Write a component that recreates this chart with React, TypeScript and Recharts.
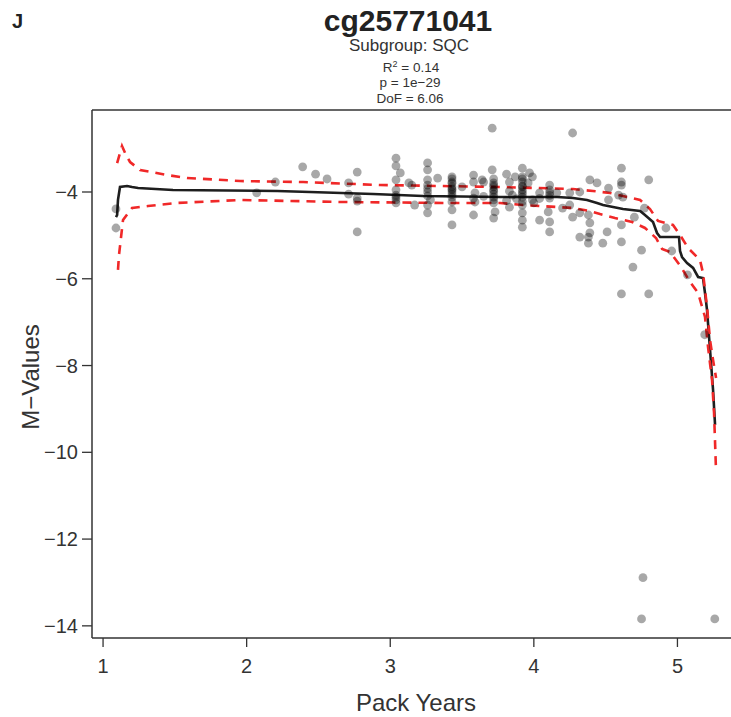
import React from 'react';
import { ComposedChart, Scatter, Line, XAxis, YAxis, ReferenceLine } from 'recharts';

// Observed points
const packYears = [
  1.09, 1.09, 2.07, 2.20, 2.39, 2.48, 2.56, 2.71, 2.71, 2.77, 2.77, 2.77, 2.77,
  3.04, 3.04, 3.07, 3.04, 3.04, 3.04, 3.04, 3.04, 3.13, 3.15, 3.17,
  3.26, 3.26, 3.26, 3.26, 3.26, 3.26, 3.26, 3.33, 3.28,
  3.43, 3.43, 3.43, 3.43, 3.43, 3.43, 3.43, 3.43, 3.43, 3.43, 3.50,
  3.58, 3.58, 3.59, 3.59, 3.58, 3.64, 3.65,
  3.71, 3.71, 3.72, 3.72, 3.72, 3.72, 3.72, 3.72, 3.73, 3.72,
  3.81, 3.83, 3.85, 3.81, 3.83, 3.87,
  3.92, 3.92, 3.92, 3.92, 3.92, 3.92, 3.92, 3.92, 3.92, 3.92, 3.92,
  3.97, 3.96, 3.99, 3.99, 4.04,
  4.11, 4.11, 4.11, 4.11, 4.10, 4.11, 4.11, 4.16, 4.20,
  4.27, 4.25, 4.25, 4.27, 4.32, 4.32, 4.32, 4.38, 4.38, 4.38, 4.39, 4.39, 4.44, 4.39,
  4.48, 4.51, 4.52, 4.52, 4.59, 4.62, 4.61, 4.61, 4.61, 4.61, 4.61, 4.61, 4.80,
  4.69, 4.70, 4.75, 4.77, 4.80, 4.92, 4.96, 5.07, 5.19, 4.76, 4.75, 5.26,
  3.72, 3.58, 3.26, 4.04, 4.00, 3.88,
  3.43, 3.43, 3.43, 3.72, 3.72, 3.72, 3.92, 3.92, 3.92, 3.92, 3.04, 3.26, 4.11, 3.83, 3.65, 4.04,
];
const mValues = [
  -4.39, -4.83, -4.02, -3.77, -3.42, -3.59, -3.70, -3.79, -4.05, -3.54, -4.14, -4.21, -4.92,
  -3.22, -3.40, -3.56, -3.72, -3.95, -4.07, -4.18, -4.25, -3.79, -3.84, -4.30,
  -3.33, -3.49, -3.72, -3.84, -4.00, -4.30, -4.48, -3.68, -4.18,
  -3.65, -3.70, -3.77, -3.88, -3.95, -4.00, -4.12, -4.23, -4.41, -4.76, -3.88,
  -3.61, -3.77, -4.02, -4.23, -4.53, -3.72, -3.77,
  -2.53, -3.49, -3.70, -3.79, -3.95, -4.05, -4.12, -4.25, -4.46, -4.60,
  -3.59, -3.77, -4.07, -4.20, -4.35, -3.65,
  -3.45, -3.65, -3.77, -3.88, -3.95, -4.05, -4.12, -4.30, -4.48, -4.65, -4.81,
  -3.56, -3.79, -4.18, -3.65, -4.65,
  -3.84, -3.95, -4.02, -4.14, -4.46, -4.69, -4.92, -4.02, -4.37,
  -2.64, -4.02, -4.30, -4.58, -4.00, -4.48, -5.04, -5.04, -5.18, -4.53, -4.71, -3.72, -3.79, -4.94,
  -5.18, -4.92, -3.91, -4.18, -4.07, -4.12, -3.45, -3.77, -3.84, -4.76, -5.15, -6.35, -6.35,
  -5.73, -4.58, -5.34, -4.37, -3.72, -4.83, -5.36, -5.91, -7.29, -12.89, -13.84, -13.84,
  -3.88, -4.14, -4.09, -4.02, -4.25, -4.16,
  -3.80, -3.93, -4.06, -3.84, -3.98, -4.18, -3.70, -3.86, -4.00, -4.22, -4.12, -3.92, -4.08, -3.98, -4.10, -4.15,
];

// Fitted curve
const fitX = [
  1.09, 1.098, 1.104, 1.118, 1.167, 1.202, 1.244, 1.487, 2.212, 2.441, 2.88, 3.228,
  3.765, 4.162, 4.273, 4.37, 4.44, 4.482, 4.621, 4.74, 4.774, 4.83, 4.858, 4.879,
  5.011, 5.018, 5.032, 5.067, 5.109, 5.144, 5.178, 5.192, 5.206, 5.227, 5.248, 5.262,
];
const fitY = [
  -4.58, -4.53, -4.18, -3.885, -3.862, -3.885, -3.908, -3.954, -3.977, -4.0, -4.046, -4.092,
  -4.115, -4.115, -4.138, -4.184, -4.253, -4.3, -4.392, -4.438, -4.53, -4.691, -4.945, -5.037,
  -5.037, -5.36, -5.498, -5.636, -5.751, -5.959, -5.982, -6.327, -6.719, -7.641, -8.562, -9.369,
];

// Upper confidence band
const upperX = [
  1.098, 1.132, 1.16, 1.188, 1.258, 1.446, 1.585, 1.954, 2.393, 2.929, 3.765, 4.273,
  4.412, 4.531, 4.74, 4.809, 4.865, 4.969, 5.018, 5.074, 5.157, 5.178, 5.206, 5.227, 5.248, 5.269,
];
const upperY = [
  -3.332, -2.94, -3.147, -3.309, -3.493, -3.608, -3.677, -3.747, -3.77, -3.839, -3.885, -3.931,
  -3.977, -4.023, -4.184, -4.392, -4.668, -4.76, -4.991, -5.29, -5.567, -5.866, -6.65, -7.41, -7.871, -8.286,
];

// Lower confidence band
const lowerX = [
  1.104, 1.111, 1.139, 1.202, 1.313, 1.515, 1.954, 2.65, 3.396, 3.765, 3.925, 4.162, 4.273,
  4.391, 4.461, 4.565, 4.684, 4.774, 4.851, 4.893, 4.948, 5.025, 5.088, 5.144, 5.192, 5.213,
  5.241, 5.255, 5.269,
];
const lowerY = [
  -5.797, -5.452, -4.645, -4.369, -4.323, -4.253, -4.184, -4.23, -4.253, -4.253, -4.3, -4.346, -4.369,
  -4.438, -4.507, -4.599, -4.691, -4.829, -5.06, -5.313, -5.382, -5.728, -6.074, -6.327, -6.88, -7.571,
  -8.332, -9.092, -10.452,
];

const xTicks = [1, 2, 3, 4, 5];
const yTicks = [-14, -12, -10, -8, -6, -4];

const zip = (xs: number[], ys: number[]) => xs.map((x, i) => ({ x, y: ys[i] }));
const pointData = zip(packYears, mValues);
const fitData = zip(fitX, fitY);
const upperData = zip(upperX, upperY);
const lowerData = zip(lowerX, lowerY);

const FONT = '"Liberation Sans", Arial, Helvetica, sans-serif';
const X_DOMAIN: [number, number] = [0.923, 5.373];
const Y_DOMAIN: [number, number] = [-14.28, -2.11];
const fmt = (v: number) => String(v).replace('-', '\u2212');

const Dot = (props: any) => (
  <circle cx={props.cx} cy={props.cy} r={4.4} fill="#000" fillOpacity={0.34} />
);

export default function App() {
  return (
    <div style={{ position: 'absolute', left: 0, top: 0, width: 731, height: 717, background: '#fff' }}>
      <ComposedChart
        width={731}
        height={717}
        margin={{ top: 110, right: 0, bottom: 0, left: 0 }}
      >
        <XAxis
          type="number"
          dataKey="x"
          domain={X_DOMAIN}
          ticks={xTicks}
          allowDataOverflow
          height={79}
          tickSize={9}
          tickMargin={12}
          axisLine={{ stroke: '#333', strokeWidth: 1.5 }}
          tickLine={{ stroke: '#333', strokeWidth: 1.3 }}
          tick={{ fill: '#333', fontSize: 20, fontFamily: FONT }}
        />
        <YAxis
          type="number"
          dataKey="y"
          domain={Y_DOMAIN}
          ticks={yTicks}
          allowDataOverflow
          width={92}
          tickSize={10}
          tickMargin={4}
          tickFormatter={fmt}
          axisLine={{ stroke: '#333', strokeWidth: 1.5 }}
          tickLine={{ stroke: '#333', strokeWidth: 1.3 }}
          tick={{ fill: '#333', fontSize: 20, fontFamily: FONT }}
        />
        <ReferenceLine y={Y_DOMAIN[1]} stroke="#333" strokeWidth={1.5} />
        <Scatter data={pointData} dataKey="y" shape={Dot} isAnimationActive={false} />
        <Line
          data={fitData}
          dataKey="y"
          type="linear"
          stroke="#1e1e1e"
          strokeWidth={2.6}
          dot={false}
          activeDot={false}
          isAnimationActive={false}
        />
        <Line
          data={upperData}
          dataKey="y"
          type="linear"
          stroke="#f02828"
          strokeWidth={2.6}
          strokeDasharray="9 7"
          dot={false}
          activeDot={false}
          isAnimationActive={false}
        />
        <Line
          data={lowerData}
          dataKey="y"
          type="linear"
          stroke="#f02828"
          strokeWidth={2.6}
          strokeDasharray="9 7"
          dot={false}
          activeDot={false}
          isAnimationActive={false}
        />
      </ComposedChart>
      <svg
        width={731}
        height={717}
        style={{ position: 'absolute', left: 0, top: 0, pointerEvents: 'none' }}
      >
        <g fontFamily={FONT} fill="#222">
          <text x={12} y={28} fontSize={20} fontWeight="bold">J</text>
          <text x={408} y={31} fontSize={30} fontWeight="bold" textAnchor="middle">cg25771041</text>
          <text x={409} y={51} fontSize={17} textAnchor="middle" fill="#333">Subgroup: SQC</text>
          <text x={411} y={72} fontSize={13.5} textAnchor="middle" fill="#333">
            R<tspan dy={-5} fontSize={9}>2</tspan><tspan dy={5}> = 0.14</tspan>
          </text>
          <text x={410} y={87} fontSize={13.5} textAnchor="middle" fill="#333">p = 1e{'\u2212'}29</text>
          <text x={410} y={103} fontSize={13.5} textAnchor="middle" fill="#333">DoF = 6.06</text>
          <text
            x={39}
            y={377}
            fontSize={24}
            textAnchor="middle"
            fill="#333"
            transform="rotate(-90 39 377)"
          >
            M{'\u2212'}Values
          </text>
          <text x={416} y={711} fontSize={24} textAnchor="middle" fill="#333">Pack Years</text>
        </g>
      </svg>
    </div>
  );
}
